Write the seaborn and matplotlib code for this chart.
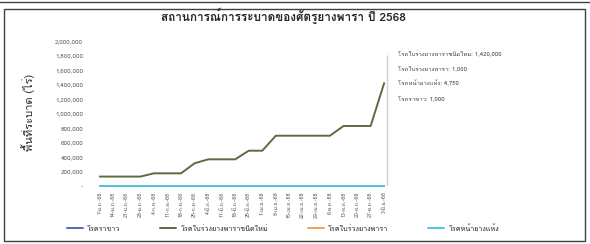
import pandas as pd
import matplotlib
matplotlib.use('Agg')
import matplotlib.pyplot as plt
import seaborn as sns
from matplotlib import font_manager
from matplotlib.lines import Line2D
from matplotlib.patches import Rectangle

# Data
dates = ['7-ม.ค.-68', '14-ม.ค.-68', '21-ม.ค.-68', '28-ม.ค.-68', '4-ก.พ.-68', '11-ก.พ.-68',
         '18-ก.พ.-68', '25-ก.พ.-68', '4-มี.ค.-68', '11-มี.ค.-68', '18-มี.ค.-68', '25-มี.ค.-68',
         '1-เม.ย.-68', '8-เม.ย.-68', '15-เม.ย.-68', '22-เม.ย.-68', '29-เม.ย.-68', '6-พ.ค.-68',
         '13-พ.ค.-68', '20-พ.ค.-68', '27-พ.ค.-68', '3-มิ.ย.-68']
series_names = ['โรคราขาว', 'โรคใบร่วงยางพาราชนิดใหม่', 'โรคใบร่วงยางพารา', 'โรคหน้ายางแห้ง']
white_root = [0] * 22
new_leaf_fall = [130000, 130000, 130000, 130000, 175000, 175000, 175000, 313000,
                 368000, 368000, 368000, 487000, 487000, 694000, 694000, 694000,
                 694000, 694000, 828000, 828000, 828000, 1420000]
leaf_fall = [1000] * 22
panel_dryness = [4750] * 22
colors = ['#5a64b8', '#5b6d3f', '#f0a050', '#4cc6e0']

# pick a font that can draw Thai
def has_thai(path):
    try:
        from fontTools.ttLib import TTFont
        f = TTFont(path, fontNumber=0, lazy=True)
        return 0x0E2A in f.getBestCmap()
    except Exception:
        return False

thai_fonts = []
for fe in font_manager.fontManager.ttflist:
    if fe.name not in thai_fonts and has_thai(fe.fname):
        thai_fonts.append(fe.name)

sns.set_theme(style='white')
plt.rcParams['font.family'] = thai_fonts[:1] + ['DejaVu Sans']

values = [white_root, new_leaf_fall, leaf_fall, panel_dryness]
df = pd.concat([pd.DataFrame({'idx': range(len(dates)), 'value': v, 'series': n})
                for n, v in zip(series_names, values)])
palette = dict(zip(series_names, colors))

fig = plt.figure(figsize=(5.9, 2.44), dpi=100)
ax = fig.add_axes([0.1576, 0.2377, 0.505, 0.594])

sns.lineplot(data=df, x='idx', y='value', hue='series', palette=palette,
             linewidth=1.4, ax=ax, legend=False)
for ln in ax.lines:
    ln.set_clip_on(False)

# leader line of the data labels
n = len(dates)
ax.vlines(n - 1 + 0.2, 0, 1810000, color='#cfd3c8', linewidth=1)

ax.set_xlim(-0.5, n - 0.5)
ax.set_ylim(0, 2000000)
ax.set_xticks(range(n))
ax.set_xticklabels(dates, rotation=90, fontsize=3.8, color='#595959')
yt = list(range(0, 2000001, 200000))
ax.set_yticks(yt)
ax.set_yticklabels(['-' if v == 0 else f'{v:,}' for v in yt], fontsize=4.5, color='#595959')
ax.tick_params(axis='y', length=0, pad=7)
ax.tick_params(axis='x', length=0, pad=4)
ax.set_xlabel('')
ax.set_ylabel('')
for s in ax.spines.values():
    s.set_visible(False)

fig.text(0.048, 0.54, 'พื้นที่ระบาด (ไร่)', rotation=90, ha='center', va='center',
         fontsize=8, color='#262626')
fig.text(0.48, 0.934, 'สถานการณ์การระบาดของศัตรูยางพารา ปี 2568', ha='center', va='center',
         fontsize=8.5, color='#262626', fontweight='bold')

# data labels of the last report
ann_y = [0.779, 0.717, 0.660, 0.598]
for name, vals, y in zip([series_names[1], series_names[2], series_names[3], series_names[0]],
                         [new_leaf_fall, leaf_fall, panel_dryness, leaf_fall], ann_y):
    fig.text(0.675, y, f'{name}: {vals[-1]:,}', fontsize=4.3, color='#404040', va='center')

handles = [Line2D([], [], color=c, linewidth=1.4) for c in colors]
fig.legend(handles, series_names, loc='center', bbox_to_anchor=(0.48, 0.061), ncol=4,
           frameon=False, fontsize=5.2, handlelength=2.2, columnspacing=5.5, handletextpad=0.6)

fig.add_artist(Rectangle((4 / 590, 3 / 244), 581 / 590, 232 / 244, transform=fig.transFigure,
                         fill=False, edgecolor='#404040', linewidth=1))
fig.add_artist(Line2D([0, 1], [0.99, 0.99], transform=fig.transFigure, color='#404040', linewidth=1))

fig.savefig('out.png', dpi=100)
